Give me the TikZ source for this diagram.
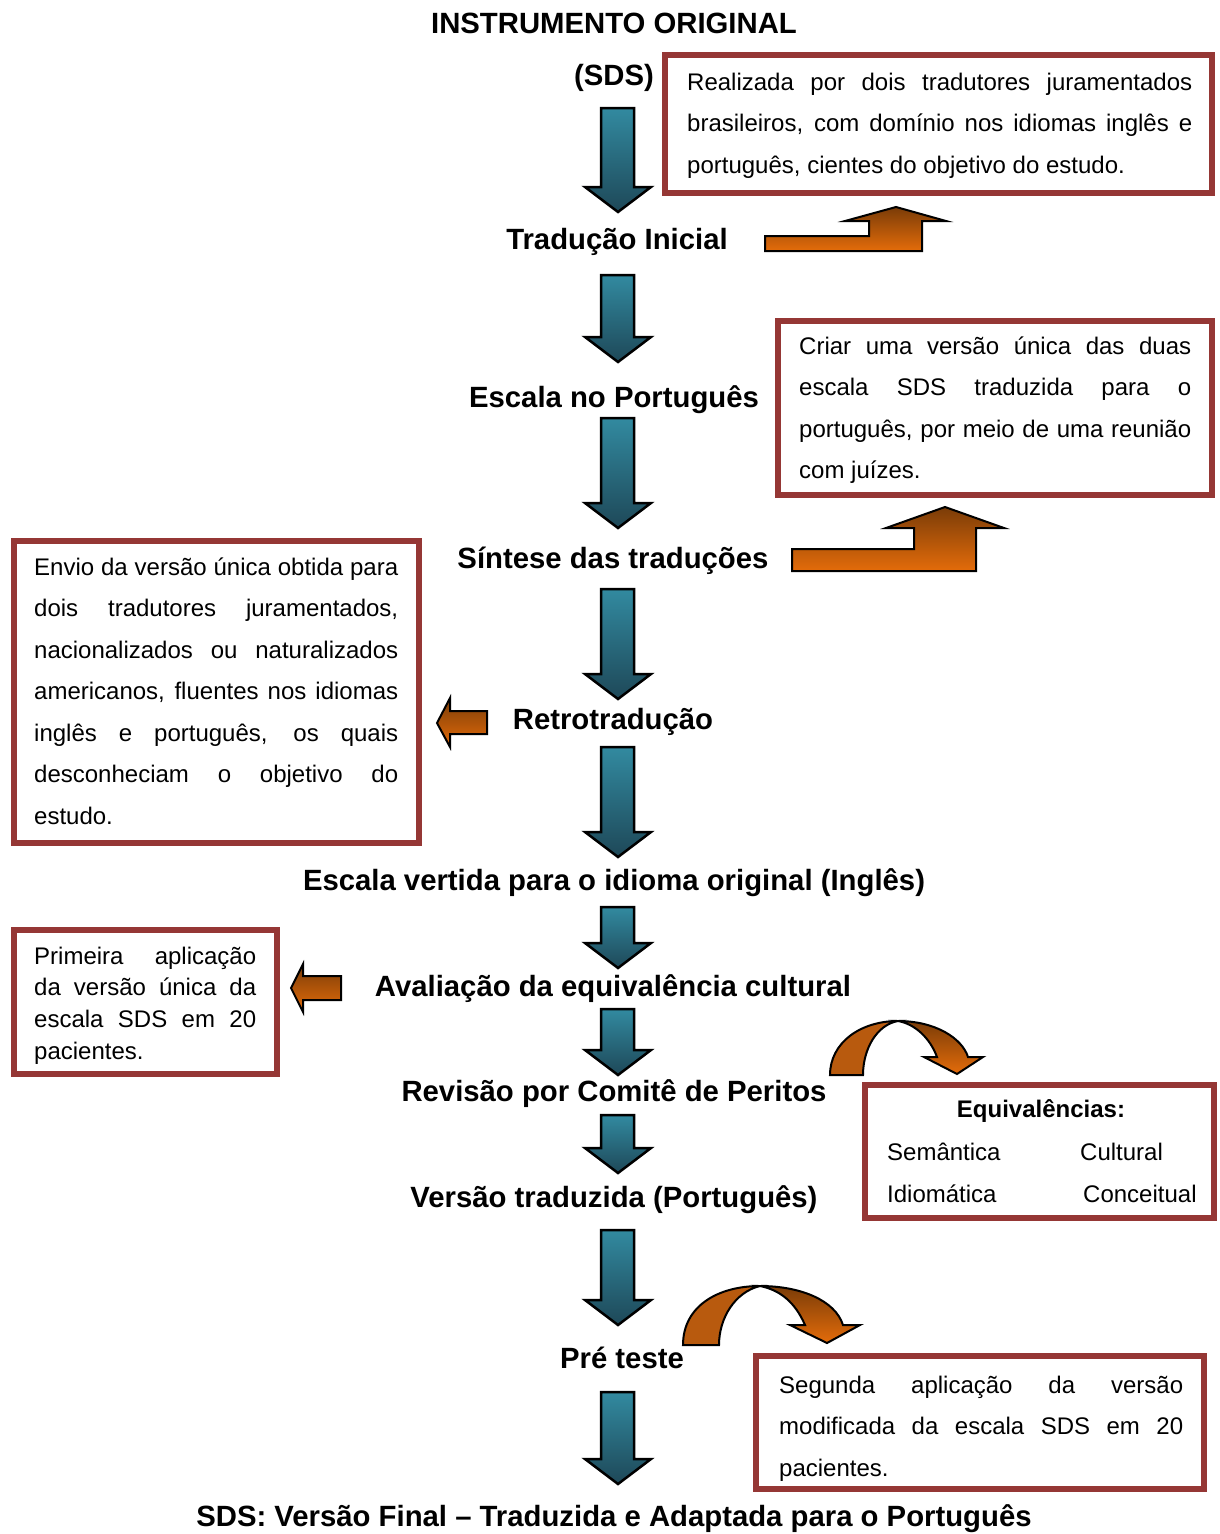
\documentclass[tikz,border=0pt]{standalone}
\usepackage{fontspec}
\setmainfont{Liberation Sans}
\usetikzlibrary{positioning}

\definecolor{bordo}{RGB}{149,55,53}
\definecolor{azulclaro}{RGB}{50,138,160}
\definecolor{azulescuro}{RGB}{30,72,88}
\definecolor{marrom}{RGB}{122,60,8}
\definecolor{laranja}{RGB}{228,108,10}
\definecolor{curvo}{RGB}{184,90,14}

\tikzset{
	etapa/.style={font=\fontsize{29.3}{34}\selectfont\bfseries, anchor=base, inner sep=0pt},
	caixa/.style={draw=bordo, line width=6pt},
	texto/.style={font=\fontsize{24}{41.5}\selectfont, anchor=base west, inner sep=0pt, align=justify},
	setaazul/.style={draw=black, line width=2.5pt, top color=azulclaro, bottom color=azulescuro},
	setalaranja/.style={draw=black, line width=2pt, top color=marrom, bottom color=laranja},
}

% seta azul para baixo: #1 = topo, #2 = ponta
\newcommand{\setaAzul}[2]{%
	\draw[setaazul] (601,#1) -- (634,#1) -- (634,#2-25) -- (651,#2-25)
	-- (618,#2) -- (585,#2-25) -- (601,#2-25) -- cycle;}

\begin{document}
\begin{tikzpicture}[x=1pt, y=-1pt]
	\useasboundingbox (0,0) rectangle (1220,1534);
	\hyphenpenalty=10000 \tolerance=9999

	%%% Etapas
	\node[etapa] (instrumento) at (614,33) {INSTRUMENTO ORIGINAL};
	\node[etapa] (sds) at (614,85) {(SDS)};
	\node[etapa] (tradinicial) at (617,249) {Tradução Inicial};
	\node[etapa] (escportugues) at (614,407) {Escala no Português};
	\node[etapa] (sintese) at (613,568) {Síntese das traduções};
	\node[etapa] (retro) at (613,729) {Retrotradução};
	\node[etapa] (vertida) at (614,890) {Escala vertida para o idioma original (Inglês)};
	\node[etapa] (avaliacao) at (613,996) {Avaliação da equivalência cultural};
	\node[etapa] (revisao) at (614,1101) {Revisão por Comitê de Peritos};
	\node[etapa] (versaotrad) at (614,1207) {Versão traduzida (Português)};
	\node[etapa] (preteste) at (622,1368) {Pré teste};
	\node[etapa] (final) at (614,1526) {SDS: Versão Final -- Traduzida e Adaptada para o Português};

	%%% Setas azuis
	\foreach \a/\b in {108/212, 275/362, 418/528, 589/699, 747/857,
		907/968, 1009/1075, 1115/1173, 1230/1325, 1392/1484}
	\setaAzul{\a}{\b};

	%%% Caixas
	\draw[caixa] (665,55) rectangle (1212,193);
	\node[texto, text width=505pt] (realizada) at (687,90)
	{Realizada por dois tradutores juramentados\linebreak
		brasileiros, com domínio nos idiomas inglês e\linebreak
		português, cientes do objetivo do estudo.};

	\draw[caixa] (778,321) rectangle (1212,495);
	\node[texto, text width=392pt] (criar) at (799,354)
	{Criar uma versão única das duas\linebreak
		escala SDS traduzida para o\linebreak
		português, por meio de uma reunião\linebreak
		com juízes.};

	\draw[caixa] (14,541) rectangle (419,843);
	\node[texto, text width=364pt] (envio) at (34,575)
	{Envio da versão única obtida para\linebreak
		dois tradutores juramentados,\linebreak
		nacionalizados ou naturalizados\linebreak
		americanos, fluentes nos idiomas\linebreak
		inglês e português, os quais\linebreak
		desconheciam o objetivo do\linebreak
		estudo.};

	\draw[caixa] (14,930) rectangle (277,1074);
	\node[texto, text width=222pt, font=\fontsize{24}{31.7}\selectfont] (primeira) at (34,964)
	{Primeira aplicação\linebreak
		da versão única da\linebreak
		escala SDS em 20\linebreak
		pacientes.};

	\draw[caixa] (865,1085) rectangle (1214,1218);
	\node[font=\fontsize{24}{28}\selectfont\bfseries, anchor=base, inner sep=0pt] (equiv) at (1041,1117) {Equivalências:};
	\node[texto, font=\fontsize{24}{28}\selectfont] (semantica) at (887,1160) {Semântica};
	\node[texto, font=\fontsize{24}{28}\selectfont] (cultural) at (1080,1160) {Cultural};
	\node[texto, font=\fontsize{24}{28}\selectfont] (idiomatica) at (887,1202) {Idiomática};
	\node[texto, font=\fontsize{24}{28}\selectfont] (conceitual) at (1083,1202) {Conceitual};

	\draw[caixa] (756,1356) rectangle (1204,1489);
	\node[texto, text width=404pt] (segunda) at (779,1393)
	{Segunda aplicação da versão\linebreak
		modificada da escala SDS em 20\linebreak
		pacientes.};

	%%% Setas laranja dobradas
	\draw[setalaranja] (765,236) -- (869,236) -- (869,221) -- (845,221) -- (896,207)
	-- (946,221) -- (922,221) -- (922,251) -- (765,251) -- cycle;
	\draw[setalaranja] (792,549) -- (914,549) -- (914,528) -- (886,528) -- (945,507)
	-- (1004,528) -- (976,528) -- (976,571) -- (792,571) -- cycle;

	%%% Setas laranja para a esquerda
	\draw[setalaranja] (487,711) -- (450,711) -- (450,698) -- (437,723) -- (450,747)
	-- (450,734) -- (487,734) -- cycle;
	\draw[setalaranja] (341,976) -- (303,976) -- (303,964) -- (291,988) -- (303,1012)
	-- (303,1000) -- (341,1000) -- cycle;

	%%% Setas curvas
	\draw[fill=curvo, line width=2pt] (830,1075) .. controls (830,1043) and (860,1021) .. (898,1021)
	.. controls (876,1025) and (863,1050) .. (863,1075) -- cycle;
	\draw[setalaranja] (898,1021) .. controls (935,1021) and (962,1038) .. (968,1057)
	-- (983,1057) -- (957,1074) -- (924,1057) -- (937,1057)
	.. controls (930,1038) and (915,1024) .. (898,1021) -- cycle;

	\draw[fill=curvo, line width=2pt] (683,1345) .. controls (683,1306) and (718,1286) .. (760,1286)
	.. controls (735,1292) and (719,1318) .. (719,1345) -- cycle;
	\draw[setalaranja] (760,1286) .. controls (800,1286) and (835,1300) .. (843,1325)
	-- (860,1325) -- (827,1343) -- (790,1325) -- (805,1325)
	.. controls (795,1302) and (780,1290) .. (760,1286) -- cycle;
\end{tikzpicture}
\end{document}
